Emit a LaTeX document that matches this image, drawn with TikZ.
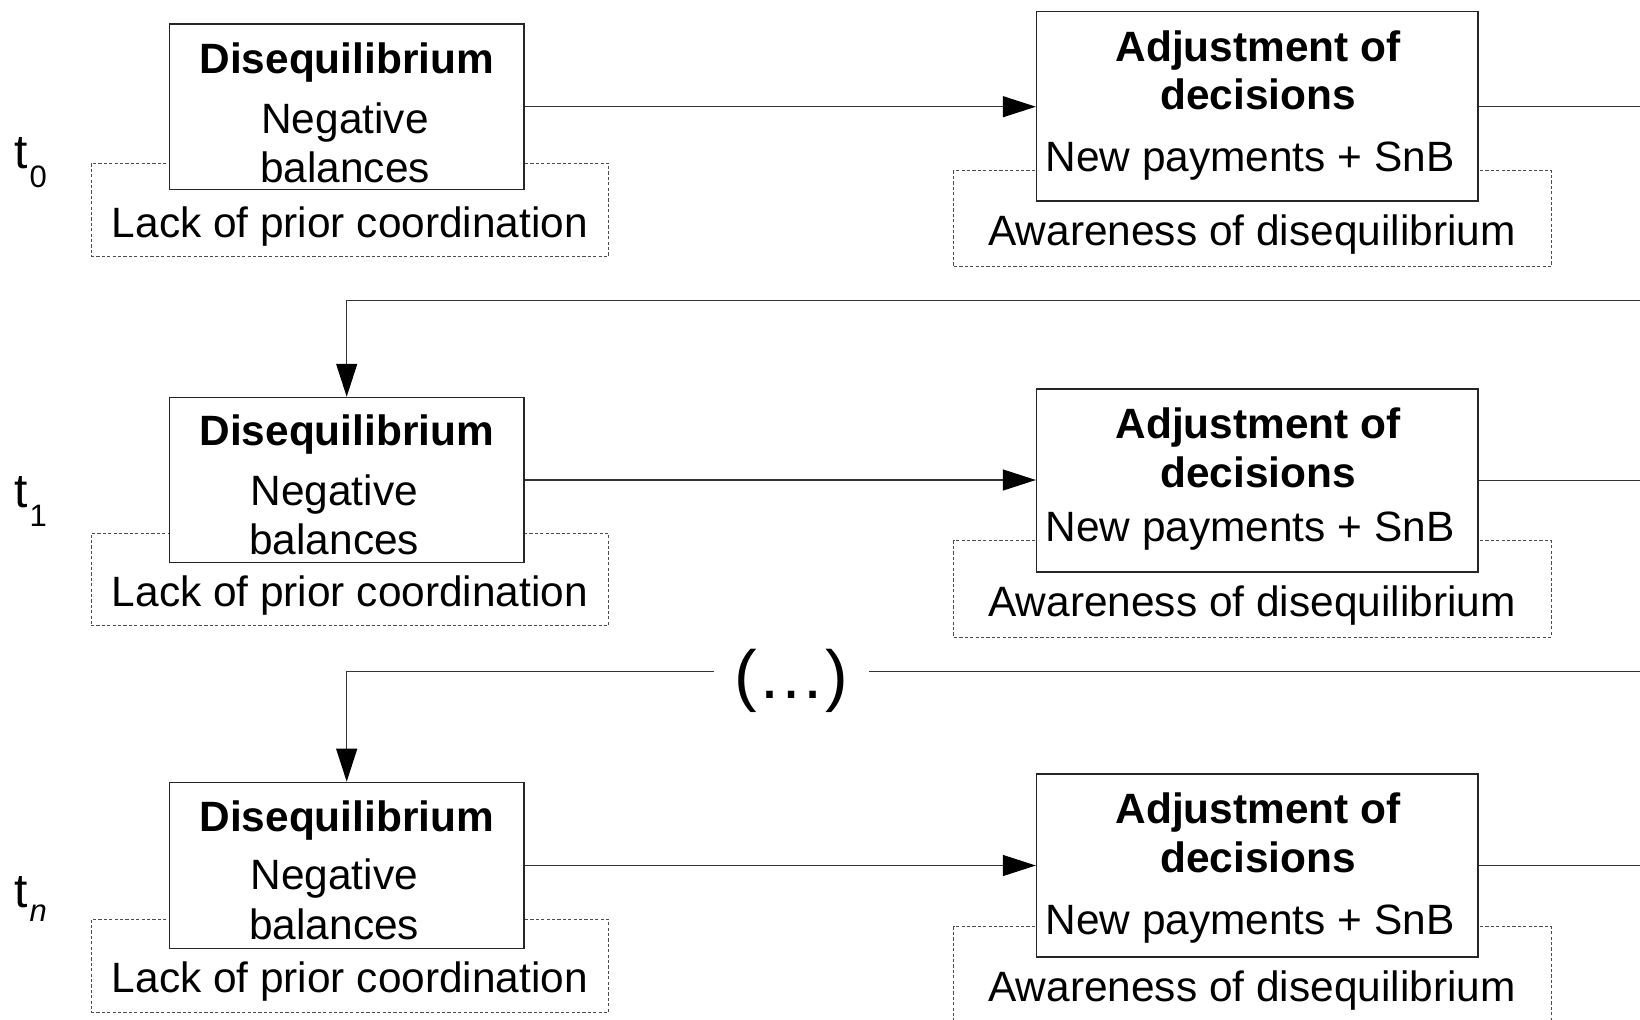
\documentclass[tikz,border=0pt]{standalone}
\usepackage{fontspec}
\setmainfont{Liberation Sans}
\usetikzlibrary{arrows.meta}
\tikzset{
  solidbox/.style={draw=black!85, line width=0.65pt, fill=white, inner sep=0pt, rectangle},
  dashbox/.style={draw=black!70, line width=0.5pt, dash pattern=on 1.6pt off 1.1pt, inner sep=0pt, rectangle},
  txt/.style={anchor=base, inner sep=0pt, font=\fontsize{21.2}{25}\selectfont},
  btxt/.style={anchor=base, inner sep=0pt, font=\fontsize{21.2}{25}\selectfont\bfseries},
  tlabel/.style={anchor=base west, inner sep=0pt, font=\fontsize{24}{24}\selectfont},
  conn/.style={draw=black!80, line width=0.6pt},
  arr/.style={conn, -{Triangle[length=16.5pt,width=10.5pt,color=black,fill=black]}},
  dbox/.style={solidbox, minimum width=177.3pt},
  abox/.style={solidbox, minimum width=220.7pt},
  ddash/.style={dashbox, minimum width=258.85pt},
  adash/.style={dashbox, minimum width=298.6pt},
}
\newcommand{\subsz}{\fontsize{15.5}{16}\selectfont}
\begin{document}
\begin{tikzpicture}[x=0.5pt, y=-0.5pt]
\useasboundingbox (0,0) rectangle (1640,1019);
\clip (0,0) rectangle (1640,1019);
\coordinate (E) at (1640,0);

% ---------- dashed context boxes ----------
\node[ddash, minimum height=46.5pt] (dd0) at (349.9,209.7) {};
\node[adash, minimum height=48.1pt] (ad0) at (1252.5,218.6) {};
\node[ddash, minimum height=46pt]   (dd1) at (349.9,579.4) {};
\node[adash, minimum height=48.15pt] (ad1) at (1252.5,588.9) {};
\node[ddash, minimum height=46.5pt] (ddn) at (349.9,965.9) {};
\node[adash, minimum height=48.15pt] (adn) at (1252.5,974.85) {};

% ---------- solid boxes ----------
\node[dbox, minimum height=82.6pt] (d0) at (346.7,106.7) {};
\node[abox, minimum height=94.65pt] (a0) at (1257.2,106.2) {};
\node[dbox, minimum height=82.6pt] (d1) at (346.7,480.0) {};
\node[abox, minimum height=91.5pt] (a1) at (1257.2,480.6) {};
\node[dbox, minimum height=83.2pt] (dn) at (346.7,865.5) {};
\node[abox, minimum height=91.5pt] (an) at (1257.2,865.5) {};

% ---------- row t0 texts ----------
\node[tlabel] (t0) at (14,168) {t\kern1pt\raisebox{-9.5pt}{\subsz 0}};
\node[btxt] (d0a) at (346.7,73) {Disequilibrium};
\node[txt]  (d0b) at (345,133.5) {Negative};
\node[txt]  (d0c) at (345,182.5) {balances};
\node[txt]  (d0d) at (349.9,237.5) {Lack of prior coordination};
\node[btxt] (a0a) at (1258,61) {Adjustment of};
\node[btxt] (a0b) at (1258,109) {decisions};
\node[txt]  (a0c) at (1250,171) {New payments + SnB};
\node[txt]  (a0d) at (1252,245) {Awareness of disequilibrium};

% ---------- row t1 texts ----------
\node[tlabel] (t1) at (14,507) {t\kern1pt\raisebox{-9.5pt}{\subsz 1}};
\node[btxt] (d1a) at (346.7,445.4) {Disequilibrium};
\node[txt]  (d1b) at (334.2,505.8) {Negative};
\node[txt]  (d1c) at (334.2,554.8) {balances};
\node[txt]  (d1d) at (349.9,606.7) {Lack of prior coordination};
\node[btxt] (a1a) at (1258,438.6) {Adjustment of};
\node[btxt] (a1b) at (1258,487.6) {decisions};
\node[txt]  (a1c) at (1250,541.2) {New payments + SnB};
\node[txt]  (a1d) at (1252,616.3) {Awareness of disequilibrium};

% ---------- row tn texts ----------
\node[tlabel] (tn) at (14,907) {t\kern1pt\raisebox{-7pt}{\subsz\itshape n}};
\node[btxt] (dna) at (346.7,831.3) {Disequilibrium};
\node[txt]  (dnb) at (334.2,889.7) {Negative};
\node[txt]  (dnc) at (334.2,939.7) {balances};
\node[txt]  (dnd) at (349.9,992.6) {Lack of prior coordination};
\node[btxt] (ana) at (1258,823.5) {Adjustment of};
\node[btxt] (anb) at (1258,872.5) {decisions};
\node[txt]  (anc) at (1250,934.5) {New payments + SnB};
\node[txt]  (and) at (1252,1001.2) {Awareness of disequilibrium};

% ---------- horizontal arrows ----------
\draw[arr] (d0.east) -- (d0.east -| a0.west);
\draw[arr] (d1.east) -- (d1.east -| a1.west);
\draw[arr] (dn.east) -- (dn.east -| an.west);

% ---------- lines leaving to the right ----------
\draw[conn] (a0.east) -- (a0.east -| E);
\draw[conn] (a1.east) -- (a1.east -| E);
\draw[conn] (an.east) -- (an.east -| E);

% ---------- feedback t0 -> t1 ----------
\coordinate (f0) at (1640,300.2);
\draw[arr] (f0) -- (f0 -| d1.north) -- (d1.north);

% ---------- feedback t1 -> tn with (...) ----------
\coordinate (f1) at (1640,671.5);
\node[anchor=base, inner sep=0pt, inner xsep=10pt, font=\fontsize{34}{34}\selectfont] (dots) at (791.5,698) {(…)};
\coordinate (g1) at (dots.east |- f1);
\coordinate (g0) at (dots.west |- f1);
\draw[conn] (f1) -- (g1);
\draw[arr] (g0) -- (g0 -| dn.north) -- (dn.north);
\end{tikzpicture}
\end{document}
